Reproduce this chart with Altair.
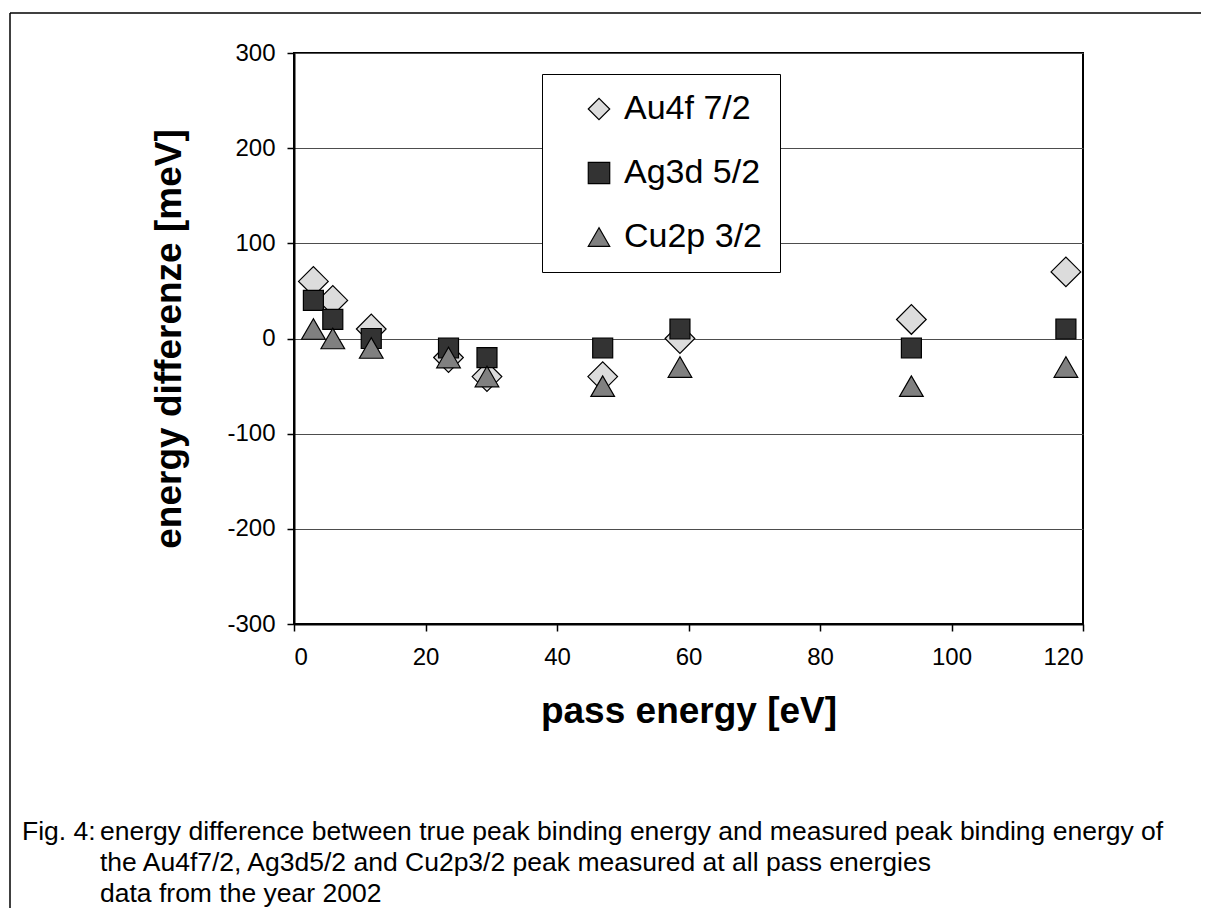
import altair as alt
import pandas as pd

# ---- data ----
pass_energy = [2.95, 5.9, 11.75, 23.5, 29.35, 46.95, 58.7, 93.9, 117.4]
au4f = [60, 40, 10, -20, -40, -40, 0, 20, 70]
ag3d = [40, 20, 0, -10, -20, -10, 10, -10, 10]
cu2p = [10, 0, -10, -20, -40, -50, -30, -50, -30]
series_names = ["Au4f 7/2", "Ag3d 5/2", "Cu2p 3/2"]
series_shapes = ["diamond", "square", "triangle-up"]
series_fills = ["#dcdcdc", "#333333", "#808080"]
series_sizes = [880, 400, 560]
x_ticks = [0, 20, 40, 60, 80, 100, 120]
y_ticks = [-300, -200, -100, 0, 100, 200, 300]
caption_label = "Fig. 4:"
caption_lines = [
    "energy difference between true peak binding energy and measured peak binding energy of",
    "the Au4f7/2, Ag3d5/2 and Cu2p3/2 peak measured at all pass energies",
    "data from the year 2002",
]

rows = []
for name, vals in zip(series_names, [au4f, ag3d, cu2p]):
    for pe, v in zip(pass_energy, vals):
        rows.append({"pe": pe, "diff": v, "series": name})
df = pd.DataFrame(rows)

FONT = "Liberation Sans"

x_enc = alt.X("pe:Q",
              scale=alt.Scale(domain=[0, 120], nice=False, zero=False),
              axis=alt.Axis(values=x_ticks, title="pass energy [eV]", grid=False,
                            labelPadding=14, titlePadding=24))
y_enc = alt.Y("diff:Q",
              scale=alt.Scale(domain=[-300, 300], nice=False),
              axis=alt.Axis(values=y_ticks, title="energy differenze [meV]", grid=True,
                            labelPadding=12, titlePadding=38,
                            labelExpr="'' + datum.value"))

legend = alt.Legend(title=None, orient="none", legendX=248, legendY=21,
                    strokeColor="black", fillColor="white",
                    padding=18, symbolOffset=22, labelFontSize=34,
                    labelFont=FONT, labelColor="black",
                    rowPadding=30, symbolSize=460,
                    symbolStrokeColor="black", symbolStrokeWidth=1.2,
                    labelOffset=8)

shape_enc = alt.Shape("series:N", scale=alt.Scale(domain=series_names, range=series_shapes),
                      legend=legend)
fill_enc = alt.Fill("series:N", scale=alt.Scale(domain=series_names, range=series_fills),
                    legend=legend)
stroke_enc = alt.Stroke("series:N",
                        scale=alt.Scale(domain=series_names, range=["black", "black", "black"]),
                        legend=legend)

point_layers = []
for name, sz in zip(series_names, series_sizes):
    point_layers.append(
        alt.Chart(df).transform_filter(alt.datum.series == name).mark_point(
            filled=True, strokeWidth=1.2, opacity=1, size=sz
        ).encode(x=x_enc, y=y_enc, shape=shape_enc, fill=fill_enc, stroke=stroke_enc)
    )

one = pd.DataFrame({"k": [0]})

frame_left = alt.Chart(one).mark_rule(color="black", strokeWidth=1.5).encode(
    x=alt.value(-284), y=alt.value(-40), y2=alt.value(860))
frame_top = alt.Chart(one).mark_rule(color="black", strokeWidth=1.5).encode(
    x=alt.value(-284), x2=alt.value(910), y=alt.value(-40))

cap_label = alt.Chart(one).mark_text(
    align="left", baseline="alphabetic", fontSize=26.5, font=FONT, color="black"
).encode(x=alt.value(-272), y=alt.value(787), text=alt.value(caption_label))

cap_text = alt.Chart(one).mark_text(
    align="left", baseline="alphabetic", fontSize=26.5, font=FONT, color="black",
    lineHeight=31, lineBreak="\n"
).encode(x=alt.value(-194), y=alt.value(787), text=alt.value("\n".join(caption_lines)))

chart = alt.layer(*point_layers, frame_left, frame_top, cap_label, cap_text).properties(
    width=789, height=571,
    padding={"left": 286, "top": 45, "right": 118, "bottom": 284},
    autosize=alt.AutoSizeParams(type="none"),
).configure(
    font=FONT,
).configure_view(
    stroke="black", strokeWidth=2
).configure_axis(
    domainColor="black", domainWidth=2, tickColor="black", tickWidth=1.5, tickSize=7,
    labelFont=FONT, labelFontSize=24, labelColor="black",
    titleFont=FONT, titleFontSize=37, titleFontWeight="bold", titleColor="black",
    gridColor="#4d4d4d", gridWidth=1.2,
)

chart.save("out.html", embed_options={"renderer": "svg", "actions": False})
